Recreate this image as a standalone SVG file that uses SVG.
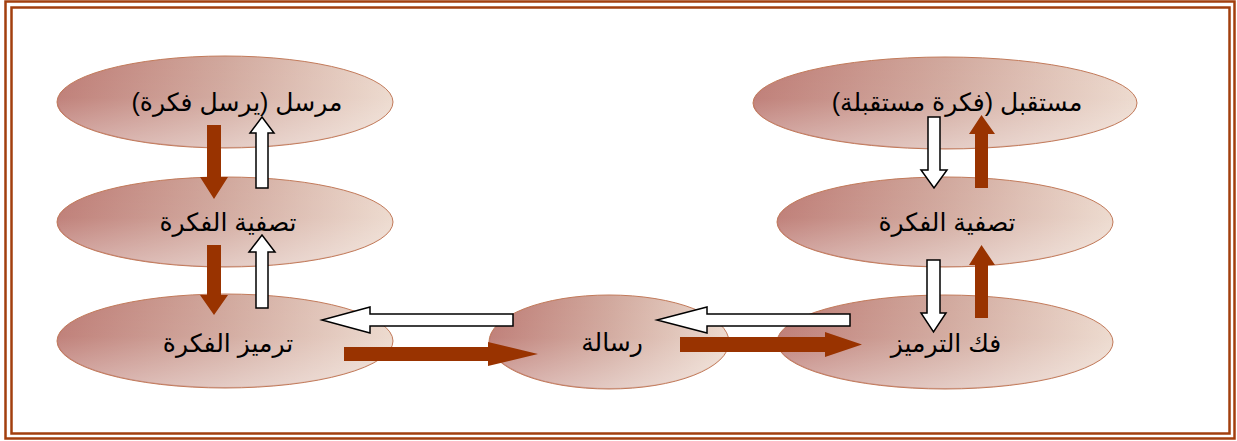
<svg xmlns="http://www.w3.org/2000/svg" width="1237" height="441" viewBox="0 0 1237 441">
  <style>
    .node { stroke: #c27a5a; stroke-width: 1; }
    .shade { fill: url(#shade); stroke: none; }
    .label { font-family: "Liberation Sans", "DejaVu Sans", sans-serif; font-size: 25px; fill: #000; text-anchor: middle; direction: rtl; unicode-bidi: embed; }
    .solid { fill: #993300; stroke: none; }
    .hollow { fill: #fff; stroke: #000; stroke-width: 1.5; stroke-linejoin: miter; }
    .frame { fill: none; stroke: #a23f0e; stroke-width: 2.5; }
  </style>
  <defs>
    <linearGradient id="fill" x1="0" y1="0" x2="1" y2="0">
      <stop offset="0" stop-color="#bd7b74"/>
      <stop offset="0.5" stop-color="#d1a89d"/>
      <stop offset="1" stop-color="#ecd9cd"/>
    </linearGradient>
    <linearGradient id="shade" x1="0" y1="0" x2="0" y2="1">
      <stop offset="0" stop-color="#ffffff" stop-opacity="0"/>
      <stop offset="0.45" stop-color="#ffffff" stop-opacity="0.05"/>
      <stop offset="1" stop-color="#ffffff" stop-opacity="0.4"/>
    </linearGradient>
  </defs>

  <rect width="1237" height="441" fill="#fff"/>

  <!-- double frame -->
  <rect class="frame" x="5.5" y="1.5" width="1229" height="437"/>
  <rect class="frame" x="11.5" y="7.5" width="1218" height="426"/>

  <g id="sender">
    <ellipse class="node" cx="225" cy="102" rx="168" ry="46" fill="url(#fill)"/>
    <ellipse class="shade" cx="225" cy="102" rx="167" ry="45"/>
    <text class="label" x="237" y="111">مرسل (يرسل فكرة)</text>
  </g>
  <g id="filter-left">
    <ellipse class="node" cx="225" cy="222" rx="168" ry="45" fill="url(#fill)"/>
    <ellipse class="shade" cx="225" cy="222" rx="167" ry="44"/>
    <text class="label" x="228" y="231">تصفية الفكرة</text>
  </g>
  <g id="encode">
    <ellipse class="node" cx="225" cy="341" rx="168" ry="47" fill="url(#fill)"/>
    <ellipse class="shade" cx="225" cy="341" rx="167" ry="46"/>
    <text class="label" x="228" y="352">ترميز الفكرة</text>
  </g>
  <g id="message">
    <ellipse class="node" cx="609" cy="342" rx="120" ry="47" fill="url(#fill)"/>
    <ellipse class="shade" cx="609" cy="342" rx="119" ry="46"/>
    <text class="label" x="612" y="351">رسالة</text>
  </g>
  <g id="receiver">
    <ellipse class="node" cx="945" cy="103" rx="192" ry="46" fill="url(#fill)"/>
    <ellipse class="shade" cx="945" cy="103" rx="191" ry="45"/>
    <text class="label" x="957" y="111">مستقبل (فكرة مستقبلة)</text>
  </g>
  <g id="filter-right">
    <ellipse class="node" cx="945" cy="222" rx="168" ry="45" fill="url(#fill)"/>
    <ellipse class="shade" cx="945" cy="222" rx="167" ry="44"/>
    <text class="label" x="947" y="231">تصفية الفكرة</text>
  </g>
  <g id="decode">
    <ellipse class="node" cx="945" cy="342" rx="168" ry="47" fill="url(#fill)"/>
    <ellipse class="shade" cx="945" cy="342" rx="167" ry="46"/>
    <text class="label" x="946" y="352">فك الترميز</text>
  </g>

  <g id="connectors">
    <!-- left column -->
    <polygon class="solid" points="207,125 221,125 221,177 228,177 214,199 200,177 207,177"/>
    <polygon class="hollow" points="256,188 268,188 268,133 274,133 262,117 250,133 256,133"/>
    <polygon class="solid" points="207,245 221,245 221,295 228,295 214,315 200,295 207,295"/>
    <polygon class="hollow" points="256,308 268,308 268,252 275,252 262,235 249,252 256,252"/>
    <!-- between encoder and message -->
    <polygon class="hollow" points="513,314 513,326 370,326 370,333 322,320 370,307 370,314"/>
    <polygon class="solid" points="344,347 488,347 488,342 538,354 488,366 488,361 344,361"/>
    <!-- between message and decoder -->
    <polygon class="hollow" points="850,314 850,326 707,326 707,333 657,320 707,307 707,314"/>
    <polygon class="solid" points="680,337 825,337 825,332 862,344.5 825,357 825,352 680,352"/>
    <!-- right column -->
    <polygon class="hollow" points="928,117 940,117 940,170 947,170 934,188 921,170 928,170"/>
    <polygon class="solid" points="975,188 988,188 988,134 995,134 981.5,115 969,134 975,134"/>
    <polygon class="hollow" points="927,260 940,260 940,313 946,313 933.5,332 921,313 927,313"/>
    <polygon class="solid" points="975,318 988,318 988,265 995,265 981.5,245 969,265 975,265"/>
  </g>
</svg>
